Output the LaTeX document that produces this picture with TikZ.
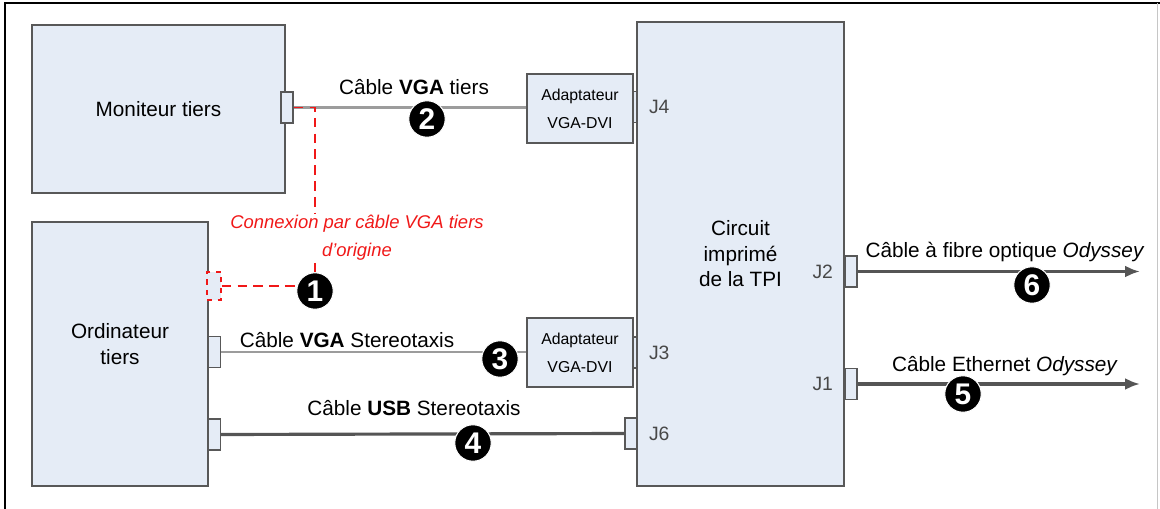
\documentclass[tikz,border=0pt]{standalone}
\usepackage{fontspec}
\setmainfont{Liberation Sans}
\usepackage{tikz}
\usetikzlibrary{
  arrows.meta,
  positioning,
  calc
}
\definecolor{boxfill}{HTML}{E5ECF6}
\definecolor{boxline}{HTML}{585858}
\definecolor{cablegray}{HTML}{9C9C9C}
\definecolor{cabledark}{HTML}{555555}
\definecolor{jgray}{HTML}{484848}
\definecolor{oldred}{HTML}{F01818}
\tikzset{
  unitbox/.style={draw=boxline, fill=boxfill, line width=1.1pt,
    align=center, inner sep=0pt,
    font=\fontsize{11.8}{14.5}\selectfont},
  adaptbox/.style={draw=boxline, fill=boxfill, line width=0.8pt,
    minimum width=21.2mm, minimum height=13.8mm, inner sep=0pt,
    align=center, font=\fontsize{9}{16}\selectfont},
  portbox/.style={draw=boxline, fill=boxfill, line width=0.8pt,
    minimum width=2.4mm, minimum height=6.2mm, inner sep=0pt},
  oldport/.style={draw=oldred, fill=boxfill, line width=0.8pt, dashed,
    minimum width=2.8mm, minimum height=5.6mm, inner sep=0pt},
  cable/.style={draw=cablegray, line width=1.2pt},
  heavycable/.style={draw=cabledark, line width=1.8pt},
  outcable/.style={heavycable, -{Latex[length=3mm, width=2.4mm]}},
  oldcable/.style={draw=oldred, line width=1pt, dash pattern=on 5.5pt off 3.5pt},
  numdot/.style={circle, fill=black, draw=white, line width=0.6pt,
    minimum size=7.3mm, inner sep=0pt, text=white,
    font=\fontsize{17}{17}\selectfont\bfseries},
  cablelabel/.style={inner sep=0pt, font=\fontsize{11.8}{14}\selectfont},
  jlabel/.style={inner sep=0pt, text=jgray, font=\fontsize{11}{13}\selectfont},
}

\begin{document}
\begin{tikzpicture}[x=0.2mm, y=-0.2mm]
  \useasboundingbox (0,0) rectangle (1160,509);
  % frame
  \draw[line width=1.7pt] (5,509) -- (5,3) -- (1160,3);
  \draw[gray!45, line width=0.8pt] (1157.5,3) -- (1157.5,509);

  % devices
  \node[unitbox, minimum width=50.6mm, minimum height=33.6mm] (mon) at (158.5,109) {Moniteur tiers};
  \node[unitbox, minimum width=35.2mm, minimum height=52.8mm,
    label={[align=center, yshift=2mm, font=\fontsize{11.8}{14.5}\selectfont]center:Ordinateur\\tiers}] (pc) at (120,354) {};
  \node[unitbox, minimum width=41.4mm, minimum height=92.8mm] (tpi) at (740.5,254) {Circuit\\imprimé\\de la TPI};

  % adapters
  \node[adaptbox] (ad1) at (580,108.5) {Adaptateur\\VGA-DVI};
  \node[adaptbox] (ad2) at (580,352.5) {Adaptateur\\VGA-DVI};

  % ports
  \node[portbox] (pmon) at (287,107.5) {};
  \node[portbox] (pvga) at (214.5,352) {};
  \node[portbox] (pusb) at (214.5,434.5) {};
  \node[oldport] (pold) at (214,286) {};
  \node[portbox] (pj6) at (631,433.5) {};
  \node[portbox, minimum width=0.8mm] (pj4) at (635,107) {};
  \node[portbox, minimum width=0.8mm] (pj3) at (635,352.5) {};
  \node[portbox] (pj2) at (851,271.5) {};
  \node[portbox] (pj1) at (851,384) {};

  \node[jlabel, right=2.2mm of pj4] (j4) {J4};
  \node[jlabel, right=2.2mm of pj3] (j3) {J3};
  \node[jlabel, right=2.2mm of pj6] (j6) {J6};
  \node[jlabel, left=2.2mm of pj2] (j2) {J2};
  \node[jlabel, left=2.2mm of pj1] (j1) {J1};

  % cables
  \draw[cable] (pmon.east) -- (pmon.east -| ad1.west);
  \draw[cable] (pvga.east) -- (pvga.east -| ad2.west);
  \draw[heavycable] (pusb.east) -- (pj6.west);
  \coordinate (end2) at (1140,271.5);
  \coordinate (end1) at (1140,384);
  \draw[outcable] (pj2.east) -- (end2);
  \draw[outcable] (pj1.east) -- (end1);

  % old VGA link
  \node[text=oldred, align=center, inner sep=1pt,
    font=\fontsize{10.5}{16}\selectfont\itshape] (orig) at (357,238)
    {Connexion par câble VGA tiers\\d’origine};
  \node[numdot] (n1) at (315,291) {1};
  \draw[oldcable] (pmon.east) -| (n1 |- orig.north);
  \draw[oldcable] (n1 |- orig.south) -- (n1);
  \draw[oldcable] (pold.east) -- (pold.east -| n1.west);

  % cable numbers
  \node[numdot] (n2) at (427,119) {2};
  \node[numdot] (n3) at (500,359) {3};
  \node[numdot] (n4) at (473,443) {4};
  \node[numdot] (n5) at (963,394) {5};
  \node[numdot] (n6) at (1032,285) {6};

  % cable labels
  \node[cablelabel] (l2) at (414,87) {Câble \textbf{VGA} tiers};
  \node[cablelabel] (l3) at (347,340) {Câble \textbf{VGA} Stereotaxis};
  \node[cablelabel] (l4) at (414,408) {Câble \textbf{USB} Stereotaxis};
  \node[cablelabel] (l6) at (1005,252) {Câble à fibre optique \textit{Odyssey}};
  \node[cablelabel] (l5) at (1005,366) {Câble Ethernet \textit{Odyssey}};
\end{tikzpicture}
\end{document}
